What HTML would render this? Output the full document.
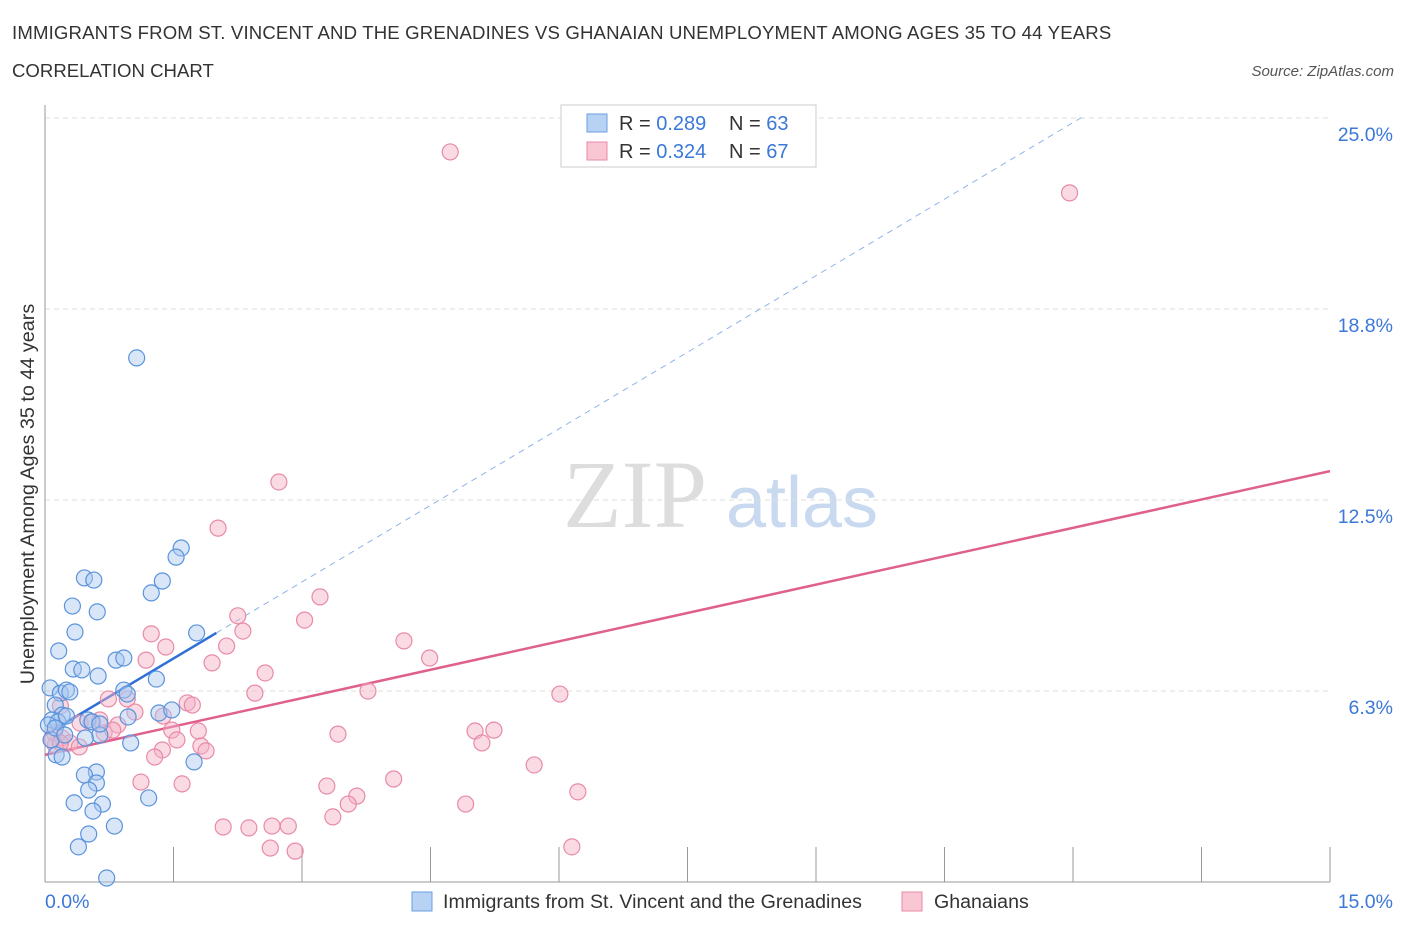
<!DOCTYPE html>
<html><head><meta charset="utf-8"><style>
body{margin:0;background:#fff;width:1406px;height:930px;overflow:hidden;font-family:"Liberation Sans",sans-serif}
</style></head><body>
<svg id="chart" width="1406" height="930" xmlns="http://www.w3.org/2000/svg" font-family="Liberation Sans, sans-serif">
<text x="12" y="39" font-size="18.6" letter-spacing="0.15" fill="#333">IMMIGRANTS FROM ST. VINCENT AND THE GRENADINES VS GHANAIAN UNEMPLOYMENT AMONG AGES 35 TO 44 YEARS</text>
<text x="12" y="77" font-size="18.6" fill="#333">CORRELATION CHART</text>
<text x="1394" y="76" font-size="15" fill="#555" font-style="italic" text-anchor="end">Source: ZipAtlas.com</text>
<g>
<text x="635" y="527" font-size="96" fill="#ddd" font-family="Liberation Serif, serif" text-anchor="middle">ZIP</text>
<text x="802" y="527" font-size="72" fill="#c8d9f0" text-anchor="middle">atlas</text>
</g>
<g id="grid"></g><g id="axes"></g><g id="trend"></g><g id="pts"></g>
<text transform="translate(34,494) rotate(-90)" font-size="19.8" fill="#333" text-anchor="middle">Unemployment Among Ages 35 to 44 years</text>
<text x="45" y="908" font-size="19.5" fill="#3b78d8">0.0%</text>
<text x="1393" y="908" font-size="19.5" fill="#3b78d8" text-anchor="end">15.0%</text>
<g>
<rect x="561" y="105" width="255" height="62" fill="#fff" stroke="#ccc"/>
<rect x="587" y="114" width="20" height="18" fill="#b8d2f4" stroke="#6a9fe0"/>
<rect x="587" y="142" width="20" height="18" fill="#f9c6d4" stroke="#e88aa8"/>
<text x="619" y="130" font-size="20" fill="#333">R = <tspan fill="#3b78d8">0.289</tspan></text>
<text x="729" y="130" font-size="20" fill="#333">N = <tspan fill="#3b78d8">63</tspan></text>
<text x="619" y="158" font-size="20" fill="#333">R = <tspan fill="#3b78d8">0.324</tspan></text>
<text x="729" y="158" font-size="20" fill="#333">N = <tspan fill="#3b78d8">67</tspan></text>
</g>
<g>
<rect x="412" y="892" width="20" height="19" fill="#b8d2f4" stroke="#6a9fe0"/>
<text x="443" y="908" font-size="19.6" fill="#333">Immigrants from St. Vincent and the Grenadines</text>
<rect x="902" y="892" width="20" height="19" fill="#f9c6d4" stroke="#e88aa8"/>
<text x="934" y="908" font-size="19.6" fill="#333">Ghanaians</text>
</g>
</svg>
<script>
const yTicks=[6.25,12.5,18.75,25];
const yTickLabels=["6.3%","12.5%","18.8%","25.0%"];
const xTicks=[0,1.5,3,4.5,6,7.5,9,10.5,12,13.5,15];
const blueX=[1.07,1.59,1.53,1.37,0.46,0.57,1.24,0.32,0.61,0.35,1.77,0.16,0.83,0.92,0.33,0.43,1.30,0.62,0.06,0.18,0.25,0.29,0.92,0.96,0.12,0.20,0.08,0.15,0.25,0.50,0.55,1.33,1.48,0.97,0.64,0.47,0.07,1.00,0.13,0.20,1.74,0.60,0.46,0.60,0.51,0.34,0.67,1.21,0.56,0.81,0.51,0.39,0.72,0.04,0.12,0.23,0.64];
const blueY=[17.15,10.93,10.63,9.85,9.95,9.88,9.46,9.03,8.84,8.18,8.15,7.56,7.26,7.33,6.97,6.94,6.64,6.74,6.35,6.18,6.28,6.22,6.28,6.15,5.79,5.46,5.30,5.24,5.43,5.30,5.24,5.53,5.63,5.40,4.81,4.71,4.65,4.55,4.16,4.09,3.93,3.60,3.50,3.24,3.01,2.59,2.55,2.75,2.32,1.83,1.57,1.15,0.13,5.14,5.04,4.81,5.17];
const pinkX=[4.73,11.96,2.73,2.02,3.21,2.25,3.03,2.31,1.24,4.19,1.41,2.12,1.18,1.95,4.49,2.57,6.01,3.77,2.45,0.74,0.96,1.66,1.72,0.18,1.05,1.38,0.54,0.41,0.85,1.48,3.42,5.02,5.24,1.79,0.11,0.69,0.20,1.54,5.10,0.29,0.12,1.82,0.40,1.88,1.37,1.28,5.71,1.12,1.60,4.07,3.29,3.64,3.54,4.91,6.22,3.36,2.08,2.38,2.65,2.84,2.63,2.92,6.15,0.64,0.08,0.18,0.79];
const pinkY=[23.89,22.55,13.09,11.58,9.33,8.71,8.57,8.21,8.12,7.89,7.69,7.72,7.26,7.17,7.33,6.84,6.15,6.25,6.18,5.99,5.99,5.86,5.79,5.76,5.56,5.43,5.24,5.20,5.14,4.97,4.84,4.94,4.97,4.94,4.88,4.88,4.71,4.65,4.55,4.55,4.48,4.45,4.42,4.29,4.32,4.09,3.83,3.27,3.21,3.37,3.14,2.81,2.55,2.55,2.95,2.13,1.80,1.77,1.83,1.83,1.11,1.01,1.15,5.30,4.65,4.55,4.97];
const blueTrend=[4.81,1.67];
const pinkTrend=[4.16,0.619];
const NS="http://www.w3.org/2000/svg";
const sx=v=>45+v*85.667, sy=v=>882-v*30.56;
function mk(p,t,a){const e=document.createElementNS(NS,t);for(const k in a)e.setAttribute(k,a[k]);document.getElementById(p).appendChild(e);return e;}
yTicks.forEach((t,i)=>{
 const l=mk('grid','line',{x1:45,x2:1330,y1:sy(t),y2:sy(t),stroke:'#ddd','stroke-dasharray':'5,4'});
 
 
 const tx=mk('grid','text',{x:1393,y:sy(t)+23,'font-size':19.5,fill:'#3b78d8','text-anchor':'end'});
 tx.textContent=yTickLabels[i];
 
 
});
const ya=mk('axes','line',{x1:45,x2:45,y1:105,y2:882,stroke:'#999'});


const xa=mk('axes','line',{x1:45,x2:1330,y1:882,y2:882,stroke:'#999'});


xTicks.forEach(t=>{
 const l=mk('axes','line',{x1:sx(t),x2:sx(t),y1:847,y2:882,stroke:'#999'});
 
 
});
function pts(X,Y,fill,stroke,name){X.forEach((x,i)=>{
 const c=mk('pts','circle',{cx:sx(x),cy:sy(Y[i]),r:8,fill:fill,'fill-opacity':0.45,stroke:stroke,'stroke-width':1.2});
 
 
});}
pts(pinkX,pinkY,'#f5b0c4','#e88aa8','ghanaian-point');
pts(blueX,blueY,'#a9c8f0','#5a93dc','immigrant-point');
const bd=mk('trend','line',{x1:sx(2),y1:sy(blueTrend[0]+2*blueTrend[1]),x2:sx(12.15),y2:sy(blueTrend[0]+12.15*blueTrend[1]),stroke:'#8fb4e8','stroke-dasharray':'6,5','stroke-width':1});


const bl=mk('trend','line',{x1:sx(0),y1:sy(blueTrend[0]),x2:sx(2),y2:sy(blueTrend[0]+2*blueTrend[1]),stroke:'#2f6fd6','stroke-width':2.5});


const pl=mk('trend','line',{x1:sx(0),y1:sy(pinkTrend[0]),x2:sx(15),y2:sy(pinkTrend[0]+15*pinkTrend[1]),stroke:'#e0608c','stroke-width':2.5});


</script>
</body></html>
